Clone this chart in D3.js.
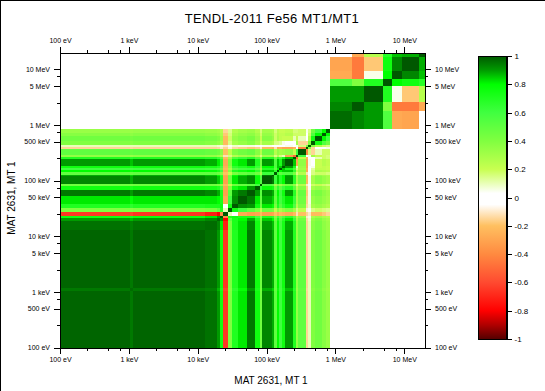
<!DOCTYPE html>
<html>
<head>
<meta charset="utf-8">
<script src="https://cdn.jsdelivr.net/npm/d3@7"></script>
<style>
  html, body { margin: 0; padding: 0; background: #fff; }
  svg { display: block; }
  text { font-family: "Liberation Sans", Arial, sans-serif; fill: #000; }
  .tick text { font-size: 7px; }
  .bar-axis .tick text { font-size: 8px; }
  .domain, .tick line { stroke: #000; }
</style>
</head>
<body>
<div id="chart"></div>
<script>
// energy group edges in eV, low block then high block
const lowEdges = [100, 1039, 1149, 12770, 19060, 21080, 23300, 27540, 31500, 38480, 52000, 67900, 80350, 85900,
  119900, 128300, 141900, 151700, 167600, 185400, 242100, 267800, 286400, 374100, 400000, 442400, 505800, 638300, 730000, 835000];
const highEdges = [835000, 1742000, 2600000, 4910000, 6640000, 9270000, 16370000, 20000000];

// correlation in percent, lower triangle, row by row
const lowCorr = [
  [98],
  [95,97],
  [98,95,98],
  [96,94,96,97],
  [90,87,90,93,98],
  [75,72,76,82,90,100],
  [-65,-62,-66,-72,-80,-40,100],
  [40,38,40,42,50,70,10,100],
  [70,66,70,72,72,75,-5,75,100],
  [82,78,82,82,80,72,-28,60,92,100],
  [95,90,95,93,88,72,-32,50,90,95,100],
  [75,72,75,74,70,58,-30,40,75,82,90,100],
  [45,43,45,45,42,35,-22,22,45,48,52,60,100],
  [93,88,93,90,85,70,-32,45,82,88,92,78,55,100],
  [88,84,88,86,80,66,-30,42,78,84,88,74,50,95,100],
  [50,48,50,50,46,38,-20,22,42,48,52,45,30,62,60,100],
  [80,76,80,78,72,60,-28,38,70,75,80,66,42,85,85,65,100],
  [60,58,60,58,54,45,-22,28,52,58,60,50,32,68,68,50,80,100],
  [75,72,75,73,68,56,-25,35,65,70,75,62,40,80,80,55,85,85,100],
  [90,86,90,88,82,66,-28,40,75,82,90,70,45,90,88,55,85,72,90,100],
  [70,67,70,68,62,50,-22,30,55,62,68,52,35,68,68,42,65,55,72,85,100],
  [35,33,35,34,30,25,-12,15,25,30,32,25,15,30,30,15,25,15,10,-30,-50,100],
  [50,48,50,48,45,36,-20,22,40,45,48,38,25,46,45,25,35,30,32,35,20,60,100],
  [-15,-14,-15,-15,-14,-10,-15,-8,-14,-16,-18,-16,-10,-22,-24,-12,-28,-25,-30,-30,-25,-5,-42,100],
  [10,10,10,10,8,6,-10,4,8,6,6,4,2,5,3,2,0,2,3,5,3,5,15,40,100],
  [40,38,40,38,35,28,-22,15,30,34,38,30,18,30,26,15,15,12,5,0,-5,30,-15,-15,40,100],
  [45,43,45,43,40,32,-22,18,34,38,42,34,20,38,34,18,28,22,20,20,10,20,10,-5,25,75,100],
  [38,36,38,36,34,28,-18,16,30,34,36,30,18,34,30,18,26,22,22,25,18,18,18,0,18,55,80,100],
  [33,32,33,32,30,25,-15,14,26,30,32,26,16,30,28,16,24,20,20,22,16,16,18,5,15,45,60,80,100]
];
const highCorr = [
  [97],
  [93,100],
  [90,90,100],
  [55,40,70,100],
  [-28,-45,5,80,100],
  [-30,-45,-18,75,93,100],
  [3,-28,25,68,86,88,100]
];

const colorStops = [-1, -0.9, -0.8, -0.6, -0.4, -0.2, -0.05, 0.03, 0.2, 0.4, 0.6, 0.8, 0.9, 1];
const colorValues = ["#550000", "#b00000", "#ff0000", "#ff4a30", "#ff8a40", "#ffc060", "#ffffff", "#ffffff",
  "#c8ff50", "#80ff40", "#40ff40", "#00ff00", "#009a00", "#005800"];

const xTicks = [100, 1e3, 1e4, 1e5, 1e6, 1e7];
const xMinor = [250, 500, 750, 2500, 5000, 7500, 25000, 50000, 75000, 250000, 500000, 750000, 2.5e6, 5e6, 7.5e6];
const yTicks = [100, 500, 1e3, 5e3, 1e4, 5e4, 1e5, 5e5, 1e6, 5e6, 1e7];
const yMinor = [250, 750, 2500, 7500, 25000, 75000, 250000, 750000, 2.5e6, 7.5e6];
const barTicks = [-1, -0.8, -0.6, -0.4, -0.2, 0, 0.2, 0.4, 0.6, 0.8, 1];

const W = 545, H = 391;
const svg = d3.select("#chart").append("svg").attr("width", W).attr("height", H);

const x = d3.scaleLog().domain([100, 2e7]).range([60, 425]);
const y = d3.scaleLog().domain([100, 2e7]).range([347.5, 52.5]);
const color = d3.scaleLinear().domain(colorStops).range(colorValues);

function energyLabel(e) {
  if (e >= 1e6) return (e / 1e6) + " MeV";
  if (e >= 1e3) return (e / 1e3) + " keV";
  return e + " eV";
}

// draws one symmetric block from its lower triangle
function drawBlock(edges, corr) {
  const cells = [];
  corr.forEach((row, i) => row.forEach((v, j) => {
    cells.push({i: i, j: j, v: v});
    if (i !== j) cells.push({i: j, j: i, v: v});
  }));
  svg.append("g").attr("shape-rendering", "crispEdges")
    .selectAll("rect").data(cells).join("rect")
    .attr("x", d => x(edges[d.j]))
    .attr("y", d => y(edges[d.i + 1]))
    .attr("width", d => x(edges[d.j + 1]) - x(edges[d.j]))
    .attr("height", d => y(edges[d.i]) - y(edges[d.i + 1]))
    .attr("fill", d => color(d.v / 100));
}
drawBlock(lowEdges, lowCorr);
drawBlock(highEdges, highCorr);

// axes, long ticks with labels and short ticks without
function drawAxis(axisFn, scale, ticks, minor, transform) {
  const g = svg.append("g").attr("transform", transform).attr("shape-rendering", "crispEdges");
  g.call(axisFn(scale).tickValues(minor).tickSize(3).tickSizeOuter(0).tickFormat(""));
  const g2 = svg.append("g").attr("transform", transform).attr("shape-rendering", "crispEdges");
  g2.call(axisFn(scale).tickValues(ticks).tickSize(6).tickSizeOuter(0).tickPadding(4).tickFormat(energyLabel));
  g2.selectAll(".domain").attr("stroke-width", 1);
}
drawAxis(d3.axisBottom, x, xTicks, xMinor, "translate(0,347.5)");
drawAxis(d3.axisTop, x, xTicks, xMinor, "translate(0,52.5)");
drawAxis(d3.axisLeft, y, yTicks, yMinor, "translate(60,0)");
drawAxis(d3.axisRight, y, yTicks, yMinor, "translate(425,0)");

// colour bar
const barScale = d3.scaleLinear().domain([-1, 1]).range([339, 56]);
const grad = svg.append("defs").append("linearGradient")
  .attr("id", "barGrad").attr("x1", 0).attr("x2", 0).attr("y1", 1).attr("y2", 0);
colorStops.forEach((s, i) => {
  grad.append("stop").attr("offset", (s + 1) / 2).attr("stop-color", colorValues[i]);
});
svg.append("rect").attr("x", 478.5).attr("y", 56).attr("width", 28).attr("height", 283)
  .attr("fill", "url(#barGrad)").attr("stroke", "#000").attr("shape-rendering", "crispEdges");
svg.append("g").attr("class", "bar-axis").attr("transform", "translate(506.5,0)")
  .attr("shape-rendering", "crispEdges")
  .call(d3.axisRight(barScale).tickValues(barTicks).tickSize(5).tickSizeOuter(0).tickPadding(3).tickFormat(d => d));

// titles
svg.append("text").attr("x", 272).attr("y", 23).attr("text-anchor", "middle")
  .style("font-size", "13px").style("letter-spacing", "0.3px").text("TENDL-2011 Fe56 MT1/MT1");
svg.append("text").attr("x", 271).attr("y", 384).attr("text-anchor", "middle")
  .style("font-size", "10px").text("MAT 2631, MT 1");
svg.append("text").attr("transform", "translate(15,198) rotate(-90)").attr("text-anchor", "middle")
  .style("font-size", "10px").text("MAT 2631, MT 1");

// image frame, left and top only
svg.append("line").attr("x1", 0.5).attr("x2", 0.5).attr("y1", 0).attr("y2", H).attr("stroke", "#000");
svg.append("line").attr("x1", 0).attr("x2", W).attr("y1", 0.5).attr("y2", 0.5).attr("stroke", "#000");
</script>
</body>
</html>
